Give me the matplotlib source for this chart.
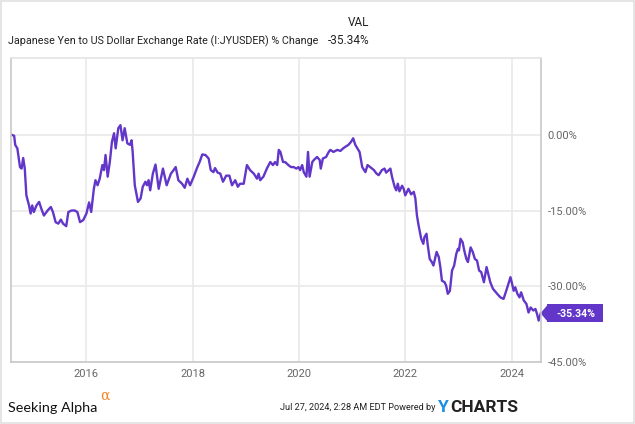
import matplotlib
matplotlib.use('Agg')
import matplotlib.pyplot as plt
from matplotlib.patches import Rectangle, Polygon
import numpy as np

# decimal year of each reading
years = [
    2014.588, 2014.64, 2014.66, 2014.70, 2014.75, 2014.78, 2014.81, 2014.84, 2014.87, 2014.92,
    2014.95, 2014.98, 2015.01, 2015.06, 2015.11, 2015.15, 2015.20, 2015.27, 2015.33, 2015.37,
    2015.42, 2015.47, 2015.52, 2015.56, 2015.62, 2015.66, 2015.72, 2015.78, 2015.83, 2015.88,
    2015.94, 2016.00, 2016.05, 2016.09, 2016.14, 2016.17, 2016.21, 2016.25, 2016.30, 2016.33,
    2016.36, 2016.40, 2016.44, 2016.48, 2016.52, 2016.55, 2016.60, 2016.64, 2016.68, 2016.72,
    2016.77, 2016.82, 2016.85, 2016.87, 2016.91, 2016.97, 2017.02, 2017.06, 2017.11, 2017.14,
    2017.17, 2017.20, 2017.25, 2017.30, 2017.36, 2017.44, 2017.51, 2017.59, 2017.64, 2017.68,
    2017.73, 2017.80, 2017.85, 2017.90, 2017.95, 2018.02, 2018.08, 2018.13, 2018.18, 2018.24,
    2018.30, 2018.34, 2018.39, 2018.42, 2018.47, 2018.52, 2018.57, 2018.63, 2018.69, 2018.74,
    2018.80, 2018.85, 2018.89, 2018.96, 2019.02, 2019.08, 2019.15, 2019.21, 2019.24, 2019.27,
    2019.33, 2019.40, 2019.46, 2019.51, 2019.55, 2019.59, 2019.62, 2019.65, 2019.70, 2019.74,
    2019.80, 2019.85, 2019.90, 2019.95, 2019.99, 2020.02, 2020.06, 2020.09, 2020.14, 2020.17,
    2020.20, 2020.25, 2020.28, 2020.34, 2020.39, 2020.41, 2020.45, 2020.51, 2020.56, 2020.59,
    2020.65, 2020.72, 2020.78, 2020.83, 2020.87, 2020.93, 2020.98, 2021.02, 2021.06, 2021.10,
    2021.14, 2021.19, 2021.25, 2021.29, 2021.34, 2021.41, 2021.46, 2021.50, 2021.56, 2021.61,
    2021.64, 2021.69, 2021.72, 2021.75, 2021.80, 2021.83, 2021.86, 2021.89, 2021.94, 2021.97,
    2022.00, 2022.06, 2022.11, 2022.16, 2022.19, 2022.22, 2022.25, 2022.30, 2022.34, 2022.36,
    2022.40, 2022.42, 2022.46, 2022.50, 2022.53, 2022.59, 2022.63, 2022.66, 2022.69, 2022.74,
    2022.77, 2022.80, 2022.84, 2022.86, 2022.88, 2022.92, 2022.96, 2022.99, 2023.01, 2023.04,
    2023.08, 2023.11, 2023.15, 2023.18, 2023.23, 2023.27, 2023.31, 2023.35, 2023.39, 2023.43,
    2023.48, 2023.53, 2023.56, 2023.60, 2023.65, 2023.73, 2023.79, 2023.85, 2023.90, 2023.95,
    2023.98, 2024.01, 2024.04, 2024.07, 2024.11, 2024.15, 2024.18, 2024.23, 2024.28, 2024.32,
    2024.36, 2024.41, 2024.45, 2024.48, 2024.51, 2024.55,
]

# % change of JPY/USD since the start of the window
pct_change = [
    0.0, -0.2, -2.0, -2.7, -6.4, -6.7, -4.6, -6.7, -12.0, -14.0,
    -15.6, -14.0, -15.3, -14.0, -13.3, -14.6, -16.0, -15.0, -14.3, -15.3,
    -17.3, -17.6, -16.8, -17.6, -18.1, -15.3, -15.0, -15.0, -15.3, -17.3,
    -16.9, -15.6, -13.4, -15.3, -10.7, -9.0, -10.0, -8.7, -6.0, -7.0,
    -4.0, -8.3, -5.4, -1.4, 0.3, -2.7, 1.3, 1.9, -1.1, 1.3,
    -1.7, -2.0, -1.1, -3.4, -10.0, -13.3, -12.6, -10.3, -9.3, -10.0,
    -9.0, -11.0, -7.7, -5.9, -10.7, -6.7, -10.0, -7.7, -7.0, -6.4,
    -9.0, -9.7, -10.5, -8.7, -10.0, -8.3, -6.6, -5.4, -3.9, -4.0,
    -4.7, -7.0, -7.4, -6.6, -7.5, -7.7, -9.3, -8.1, -8.1, -10.0,
    -9.0, -10.3, -9.7, -9.7, -6.0, -7.0, -7.7, -8.7, -7.7, -9.0,
    -8.3, -6.6, -5.4, -6.0, -5.4, -6.0, -3.0, -3.4, -5.4, -5.4,
    -6.0, -6.4, -6.4, -6.7, -6.4, -7.0, -6.0, -7.4, -8.3, -3.4,
    -8.3, -5.4, -5.0, -4.4, -5.0, -6.7, -4.7, -4.4, -3.4, -3.0,
    -3.4, -3.0, -3.2, -2.7, -2.4, -2.0, -1.4, -0.7, -2.0, -2.7,
    -3.4, -6.4, -7.4, -6.0, -6.4, -7.0, -7.7, -8.0, -7.0, -6.7,
    -7.5, -7.0, -6.7, -8.3, -10.3, -11.0, -9.7, -11.2, -10.1, -10.7,
    -12.0, -10.7, -11.8, -11.3, -12.6, -16.0, -17.9, -20.6, -21.6, -20.3,
    -19.6, -21.6, -24.6, -25.2, -25.9, -23.2, -24.2, -26.2, -28.9, -29.2,
    -29.9, -31.5, -30.9, -28.9, -26.9, -25.9, -23.6, -22.6, -22.9, -20.6,
    -21.3, -22.9, -24.6, -25.2, -22.3, -23.2, -24.6, -24.9, -26.9, -27.2,
    -29.2, -26.2, -27.5, -29.2, -30.5, -31.5, -32.2, -32.5, -30.9, -29.2,
    -28.2, -29.5, -30.9, -30.2, -31.5, -32.2, -31.2, -32.8, -33.5, -35.2,
    -34.2, -34.8, -34.5, -35.5, -36.8, -35.34,
]

year_ticks = [2016, 2018, 2020, 2022, 2024]
pct_ticks = [0, -15, -30, -45]

purple = '#6236c8'
grey_txt = '#666666'
W, H = 635, 424

plt.rcParams['font.family'] = ['Roboto', 'DejaVu Sans']

fig = plt.figure(figsize=(6.35, 4.24), dpi=100)
ax = fig.add_axes([10.7 / W, 1 - 362 / H, (540.5 - 10.7) / W, (362 - 58) / H])

ax.plot(years, pct_change, color=purple, linewidth=1.7, solid_joinstyle='round')

ax.set_xlim(2014.575, 2024.545)
ax.set_ylim(-45, 15.2)
ax.set_xticks(year_ticks)
ax.set_xticklabels([str(y) for y in year_ticks])
ax.set_yticks(pct_ticks)
ax.set_yticklabels(['{:.2f}%'.format(p) for p in pct_ticks])
ax.yaxis.tick_right()
ax.tick_params(axis='both', length=0, labelsize=8, labelcolor=grey_txt)
ax.tick_params(axis='y', pad=5)
ax.tick_params(axis='x', pad=5)

ax.grid(True, color='#e9e9e9', linewidth=1.2)
ax.set_axisbelow(True)
for side in ['left', 'right', 'bottom']:
    ax.spines[side].set_color('#c8c8c8')
    ax.spines[side].set_linewidth(1.2)
ax.spines['top'].set_color('#e4e4e4')
ax.spines['top'].set_linewidth(1.2)

# last value tag on the right of the plot
last = pct_change[-1]
trans = ax.get_yaxis_transform()
half = 1.75
x_box0 = (548 - 10.7) / 529.8
x_box1 = (603 - 10.7) / 529.8
ax.add_patch(Polygon([[1.0, last], [x_box0, last + half], [x_box0, last - half]], closed=True,
                     transform=trans, color=purple, clip_on=False, lw=0))
ax.add_patch(Rectangle((x_box0 - 0.001, last - half), x_box1 - x_box0 + 0.001, 2 * half,
                       transform=trans, color=purple, clip_on=False, lw=0))
ax.text((x_box0 + x_box1) / 2, last - 0.1, '{:.2f}%'.format(last), transform=trans, color='white',
        fontsize=7.6, fontweight='bold', ha='center', va='center')


def fit_width(t, width_px):
    # shrink a text so that it spans the width seen in the reference
    r = fig.canvas.get_renderer()
    w = t.get_window_extent(r).width
    t.set_fontsize(t.get_fontsize() * width_px / w)


# header
fig.text(369 / W, 1 - 23 / H, 'VAL', ha='right', va='center', fontsize=8.5, color='#222222')
title = fig.text(8 / W, 1 - 41 / H, 'Japanese Yen to US Dollar Exchange Rate (I:JYUSDER) % Change',
                 ha='left', va='center', fontsize=9, color='#222222')
fit_width(title, 312)
fig.text(369 / W, 1 - 41 / H, '{:.2f}%'.format(last), ha='right', va='center', fontsize=8.5,
         color='#222222')

# footer
fig.text(8 / W, 1 - 408 / H, 'Seeking Alpha', ha='left', va='center', fontsize=10.4,
         family=['Lato', 'DejaVu Sans'], color='#111111')
fig.text(100 / W, 1 - 396 / H, '\u03b1', ha='left', va='center', fontsize=10,
         family=['DejaVu Serif'], color='#f58220')
fig.text(435 / W, 1 - 407 / H, 'Jul 27, 2024, 2:28 AM EDT Powered by', ha='right',
         va='center', fontsize=6.6, color='#222222')
fig.text(438 / W, 1 - 407 / H, 'Y', ha='left', va='center', fontsize=12.5, fontweight='bold',
         color='#1a8fe3')
fig.text(450 / W, 1 - 407 / H, 'CHARTS', ha='left', va='center', fontsize=12.5, fontweight='bold',
         color='#222222')

# thin frame around the whole picture
fig.patches.append(Rectangle((0.002, 0.002), 0.996, 0.996, transform=fig.transFigure,
                             fill=False, edgecolor='#e0e0e0', linewidth=1.2))

fig.savefig('out.png', dpi=100)
